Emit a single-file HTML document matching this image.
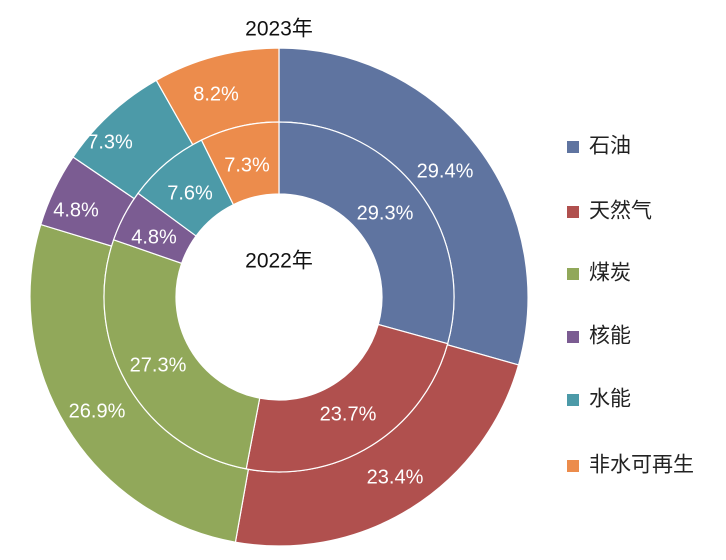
<!DOCTYPE html>
<html><head><meta charset="utf-8"><style>
html,body{margin:0;padding:0;background:#fff;}
svg{display:block;font-family:"Liberation Sans","Noto Sans CJK SC",sans-serif;}
</style></head><body>
<svg id="s" width="726" height="560" viewBox="0 0 726 560">
<g id="rings"></g>
<g font-size="20" fill="#fff" text-anchor="middle" dominant-baseline="middle">
<text x="445" y="172">29.4%</text>
<text x="385" y="214">29.3%</text>
<text x="348" y="415">23.7%</text>
<text x="395" y="478">23.4%</text>
<text x="97" y="412">26.9%</text>
<text x="158" y="366">27.3%</text>
<text x="76" y="211">4.8%</text>
<text x="154" y="238">4.8%</text>
<text x="110" y="143">7.3%</text>
<text x="190" y="194">7.6%</text>
<text x="216" y="95">8.2%</text>
<text x="247" y="166">7.3%</text>
</g>
<g font-size="21" fill="#111" text-anchor="middle" dominant-baseline="middle">
<text x="279" y="30">2023年</text>
<text x="279" y="262">2022年</text>
</g>
<g font-size="21" fill="#222" dominant-baseline="middle">
<rect x="567" y="141" width="12" height="12" fill="#5f74a0"/><text x="589" y="147">石油</text>
<rect x="567" y="206" width="12" height="12" fill="#b0504e"/><text x="589" y="212">天然气</text>
<rect x="567" y="268" width="12" height="12" fill="#91a85a"/><text x="589" y="274">煤炭</text>
<rect x="567" y="331" width="12" height="12" fill="#7b5c92"/><text x="589" y="337">核能</text>
<rect x="567" y="394" width="12" height="12" fill="#4c9aa8"/><text x="589" y="400">水能</text>
<rect x="567" y="460" width="12" height="12" fill="#ec8c4c"/><text x="589" y="466">非水可再生</text>
</g>
</svg>
<script>
(function(){
var cx=279,cy=297,R=249,M=175,r=103;
var cols=["#5f74a0","#b0504e","#91a85a","#7b5c92","#4c9aa8","#ec8c4c"];
var outer=[29.4,23.4,26.9,4.8,7.3,8.2],inner=[29.3,23.7,27.3,4.8,7.6,7.3];
var g=document.getElementById("rings"),ns="http://www.w3.org/2000/svg";
function pt(rad,a){return [cx+rad*Math.sin(a),cy-rad*Math.cos(a)];}
function ring(vals,ro,ri){var a=0;vals.forEach(function(v,i){var b=a+v/100*2*Math.PI;
var p1=pt(ro,a),p2=pt(ro,b),p3=pt(ri,b),p4=pt(ri,a),l=(b-a)>Math.PI?1:0;
var d="M"+p1+" A"+ro+" "+ro+" 0 "+l+" 1 "+p2+" L"+p3+" A"+ri+" "+ri+" 0 "+l+" 0 "+p4+"Z";
var p=document.createElementNS(ns,"path");p.setAttribute("d",d);p.setAttribute("fill",cols[i]);
p.setAttribute("stroke","#fff");p.setAttribute("stroke-width","1.2");g.appendChild(p);a=b;});}
ring(outer,R,M);ring(inner,M,r);
})();
</script>
</body></html>
